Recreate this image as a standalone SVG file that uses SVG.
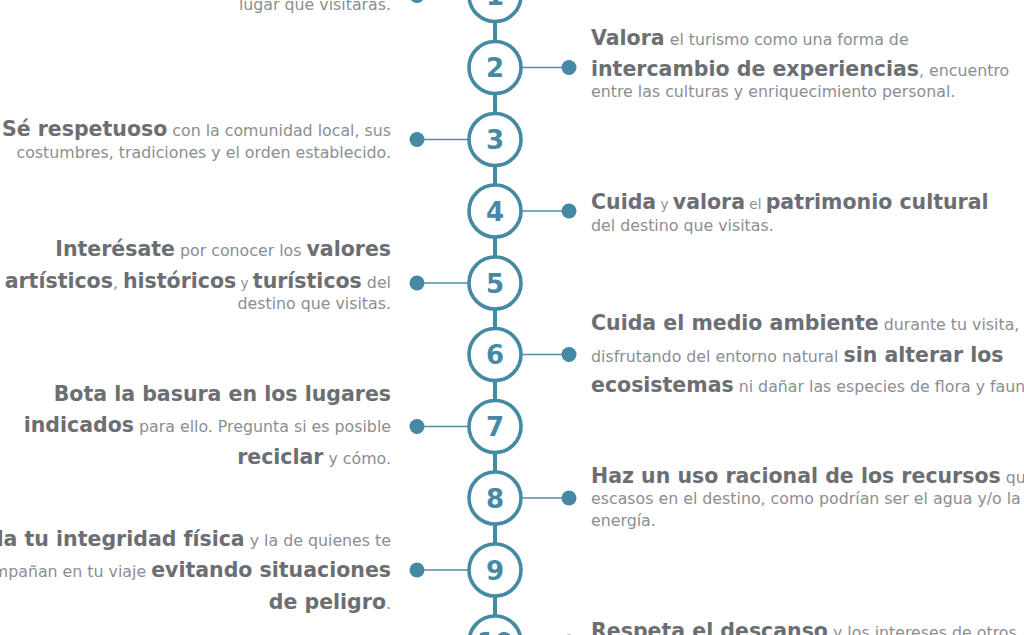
<svg xmlns="http://www.w3.org/2000/svg" width="1024" height="635" viewBox="0 0 1024 635">
<style>
.t{font-family:"DejaVu Sans","Liberation Sans",sans-serif;}
.L{text-anchor:end;}
.b{font-weight:bold;font-size:20.5px;fill:#6b6e72;}
.r{font-weight:normal;font-size:15.8px;fill:#8b8e92;}
.s{font-weight:normal;font-size:13.5px;fill:#8b8e92;}
.c{fill:#ffffff;stroke:#4589a5;stroke-width:3.6;}
.n{font-family:"DejaVu Sans","Liberation Sans",sans-serif;font-weight:bold;font-size:26px;fill:#4589a5;text-anchor:middle;}
.dot{fill:#4589a5;}
.ln{stroke:#4d8fa9;stroke-width:1.6;fill:none;}
.spine{stroke:#4589a5;stroke-width:4;fill:none;}
</style>
<rect width="1024" height="635" fill="#ffffff"/>
<g id="connectors">
<line class="spine" x1="495" y1="0" x2="495" y2="635"/>
<line class="ln" x1="417" y1="-4.5" x2="469" y2="-4.5"/>
<line class="ln" x1="521" y1="67.5" x2="569" y2="67.5"/>
<line class="ln" x1="417" y1="139.5" x2="469" y2="139.5"/>
<line class="ln" x1="521" y1="211" x2="569" y2="211"/>
<line class="ln" x1="417" y1="283" x2="469" y2="283"/>
<line class="ln" x1="521" y1="354.5" x2="569" y2="354.5"/>
<line class="ln" x1="417" y1="426.5" x2="469" y2="426.5"/>
<line class="ln" x1="521" y1="498" x2="569" y2="498"/>
<line class="ln" x1="417" y1="570" x2="469" y2="570"/>
<line class="ln" x1="521" y1="642" x2="569" y2="642"/>
<circle class="dot" cx="417" cy="-4.5" r="7.5"/>
<circle class="dot" cx="569" cy="67.5" r="7.5"/>
<circle class="dot" cx="417" cy="139.5" r="7.5"/>
<circle class="dot" cx="569" cy="211" r="7.5"/>
<circle class="dot" cx="417" cy="283" r="7.5"/>
<circle class="dot" cx="569" cy="354.5" r="7.5"/>
<circle class="dot" cx="417" cy="426.5" r="7.5"/>
<circle class="dot" cx="569" cy="498" r="7.5"/>
<circle class="dot" cx="417" cy="570" r="7.5"/>
<circle class="dot" cx="569" cy="642" r="7.5"/>
</g>
<g id="node-1">
<circle class="c" cx="495" cy="-4.5" r="26"/>
<text class="n" x="495" y="5">1</text>
<text class="t L" x="391" y="10"><tspan class="r">lugar que visitarás.</tspan></text>
</g>
<g id="node-2">
<circle class="c" cx="495" cy="67.5" r="26"/>
<text class="n" x="495" y="77">2</text>
<text class="t" x="591" y="45"><tspan class="b">Valora</tspan><tspan class="r"> el turismo como una forma de</tspan></text>
<text class="t" x="591" y="76"><tspan class="b">intercambio de experiencias</tspan><tspan class="r">, encuentro</tspan></text>
<text class="t" x="591" y="97"><tspan class="r">entre las culturas y enriquecimiento personal.</tspan></text>
</g>
<g id="node-3">
<circle class="c" cx="495" cy="139.5" r="26"/>
<text class="n" x="495" y="149">3</text>
<text class="t L" x="391" y="136"><tspan class="b">Sé respetuoso</tspan><tspan class="r"> con la comunidad local, sus</tspan></text>
<text class="t L" x="391" y="158"><tspan class="r">costumbres, tradiciones y el orden establecido.</tspan></text>
</g>
<g id="node-4">
<circle class="c" cx="495" cy="211" r="26"/>
<text class="n" x="495" y="220.5">4</text>
<text class="t" x="591" y="209"><tspan class="b">Cuida</tspan><tspan class="s"> y </tspan><tspan class="b">valora</tspan><tspan class="s"> el </tspan><tspan class="b">patrimonio cultural</tspan></text>
<text class="t" x="591" y="231"><tspan class="r">del destino que visitas.</tspan></text>
</g>
<g id="node-5">
<circle class="c" cx="495" cy="283" r="26"/>
<text class="n" x="495" y="292.5">5</text>
<text class="t L" x="391" y="256"><tspan class="b">Interésate</tspan><tspan class="r"> por conocer los </tspan><tspan class="b">valores</tspan></text>
<text class="t L" x="391" y="288"><tspan class="b">artísticos</tspan><tspan class="r">, </tspan><tspan class="b">históricos</tspan><tspan class="s"> y </tspan><tspan class="b">turísticos</tspan><tspan class="r"> del</tspan></text>
<text class="t L" x="391" y="309"><tspan class="r">destino que visitas.</tspan></text>
</g>
<g id="node-6">
<circle class="c" cx="495" cy="354.5" r="26"/>
<text class="n" x="495" y="364">6</text>
<text class="t" x="591" y="330"><tspan class="b">Cuida el medio ambiente</tspan><tspan class="r"> durante tu visita,</tspan></text>
<text class="t" x="591" y="362"><tspan class="r">disfrutando del entorno natural </tspan><tspan class="b">sin alterar los</tspan></text>
<text class="t" x="591" y="392"><tspan class="b">ecosistemas</tspan><tspan class="r"> ni dañar las especies de flora y fauna.</tspan></text>
</g>
<g id="node-7">
<circle class="c" cx="495" cy="426.5" r="26"/>
<text class="n" x="495" y="436">7</text>
<text class="t L" x="391" y="401"><tspan class="b">Bota la basura en los lugares</tspan></text>
<text class="t L" x="391" y="432"><tspan class="b">indicados</tspan><tspan class="r"> para ello. Pregunta si es posible</tspan></text>
<text class="t L" x="391" y="464"><tspan class="b">reciclar</tspan><tspan class="r"> y cómo.</tspan></text>
</g>
<g id="node-8">
<circle class="c" cx="495" cy="498" r="26"/>
<text class="n" x="495" y="507.5">8</text>
<text class="t" x="591" y="483"><tspan class="b">Haz un uso racional de los recursos</tspan><tspan class="r"> que son</tspan></text>
<text class="t" x="591" y="504"><tspan class="r">escasos en el destino, como podrían ser el agua y/o la</tspan></text>
<text class="t" x="591" y="526"><tspan class="r">energía.</tspan></text>
</g>
<g id="node-9">
<circle class="c" cx="495" cy="570" r="26"/>
<text class="n" x="495" y="579.5">9</text>
<text class="t L" x="391" y="546"><tspan class="b">Cuida tu integridad física</tspan><tspan class="r"> y la de quienes te</tspan></text>
<text class="t L" x="391" y="577"><tspan class="r">acompañan en tu viaje </tspan><tspan class="b">evitando situaciones</tspan></text>
<text class="t L" x="391" y="609"><tspan class="b">de peligro</tspan><tspan class="r">.</tspan></text>
</g>
<g id="node-10">
<circle class="c" cx="495" cy="642" r="26"/>
<text class="n" x="495" y="651.5">10</text>
<text class="t" x="591" y="638"><tspan class="b">Respeta el descanso</tspan><tspan class="r"> y los intereses de otros</tspan></text>
</g>
</svg>
